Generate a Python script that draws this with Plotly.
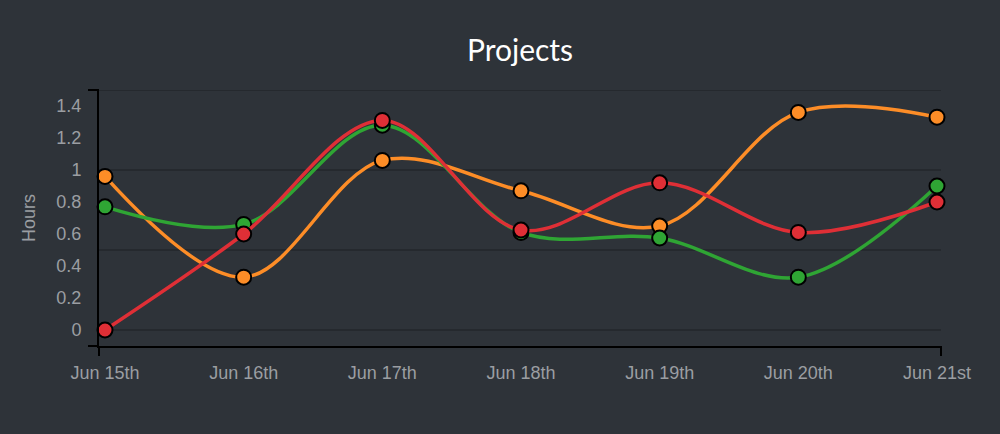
import plotly.graph_objects as go

# ---- data ----
DATES = ["Jun 15th", "Jun 16th", "Jun 17th", "Jun 18th", "Jun 19th", "Jun 20th", "Jun 21st"]
ORANGE_VALUES = [0.96, 0.33, 1.06, 0.87, 0.65, 1.36, 1.33]
GREEN_VALUES = [0.77, 0.66, 1.28, 0.61, 0.575, 0.33, 0.90]
RED_VALUES = [0.0, 0.60, 1.31, 0.625, 0.92, 0.61, 0.80]
Y_TICKS = [0, 0.2, 0.4, 0.6, 0.8, 1, 1.2, 1.4]
Y_TICK_TEXT = ["0", "0.2", "0.4", "0.6", "0.8", "1", "1.2", "1.4"]
GRID_VALUES = [0, 0.5, 1, 1.5]

SERIES = [
    ("Orange", ORANGE_VALUES, "#fd8d27"),
    ("Green", GREEN_VALUES, "#2fa534"),
    ("Red", RED_VALUES, "#df2f36"),
]

BG = "#2e3339"
GRID = "#1d2125"
TICK_COLOR = "#9b9ea2"
FONT = "Liberation Sans, Arial, sans-serif"

x_idx = list(range(len(DATES)))

fig = go.Figure()
for name, vals, color in SERIES:
    fig.add_trace(go.Scatter(
        x=x_idx, y=vals, name=name, mode="lines+markers",
        line=dict(color=color, width=3.5, shape="spline", smoothing=1.0),
        marker=dict(size=15, color=color, line=dict(color="#000000", width=2)),
        hoverinfo="skip", cliponaxis=False,
    ))

W, H = 1000, 434
ML, MR, MT, MB = 99, 59, 90, 88
pw = W - ML - MR
ph = H - MT - MB

shapes = []
for g in GRID_VALUES:
    shapes.append(dict(type="line", xref="paper", yref="y", x0=0, x1=1, y0=g, y1=g,
                       line=dict(color=GRID, width=1), layer="below"))
# d3-style outer ticks on axes
tx = 11 / pw
ty = 10 / ph
shapes += [
    dict(type="line", xref="paper", yref="paper", x0=-tx, x1=0, y0=1, y1=1,
         line=dict(color="#000000", width=2)),
    dict(type="line", xref="paper", yref="paper", x0=-tx, x1=0, y0=0, y1=0,
         line=dict(color="#000000", width=2)),
    dict(type="line", xref="paper", yref="paper", x0=0, x1=0, y0=0, y1=-ty,
         line=dict(color="#000000", width=2)),
    dict(type="line", xref="paper", yref="paper", x0=1, x1=1, y0=0, y1=-ty,
         line=dict(color="#000000", width=2)),
]

x0 = -6 / 138.67
x1 = 6 + 4 / 138.67

fig.update_layout(
    width=W, height=H,
    margin=dict(l=ML, r=MR, t=MT, b=MB),
    paper_bgcolor=BG, plot_bgcolor=BG,
    showlegend=False,
    title=dict(text="Projects", x=0.5, xanchor="center", xref="paper",
               y=1 - 50 / H, yanchor="middle", yref="container",
               font=dict(family="Lato, sans-serif", size=30, color="#ffffff")),
    xaxis=dict(range=[x0, x1], tickvals=x_idx, ticktext=DATES, showgrid=False,
               zeroline=False, showline=True, linecolor="#000000", linewidth=2,
               ticks="", ticklabelstandoff=9,
               tickfont=dict(family=FONT, size=18, color=TICK_COLOR)),
    yaxis=dict(range=[-0.1, 1.5], tickvals=Y_TICKS, ticktext=Y_TICK_TEXT, showgrid=False,
               zeroline=False, showline=True, linecolor="#000000", linewidth=2,
               ticks="", ticklabelstandoff=12,
               tickfont=dict(family=FONT, size=18, color=TICK_COLOR),
               title=dict(text="Hours", standoff=16,
                          font=dict(family=FONT, size=18, color=TICK_COLOR))),
    shapes=shapes,
)

fig.write_html("out.html", config={"displayModeBar": False},
               post_script="document.body.style.margin='0';document.body.style.background='#ffffff';")
